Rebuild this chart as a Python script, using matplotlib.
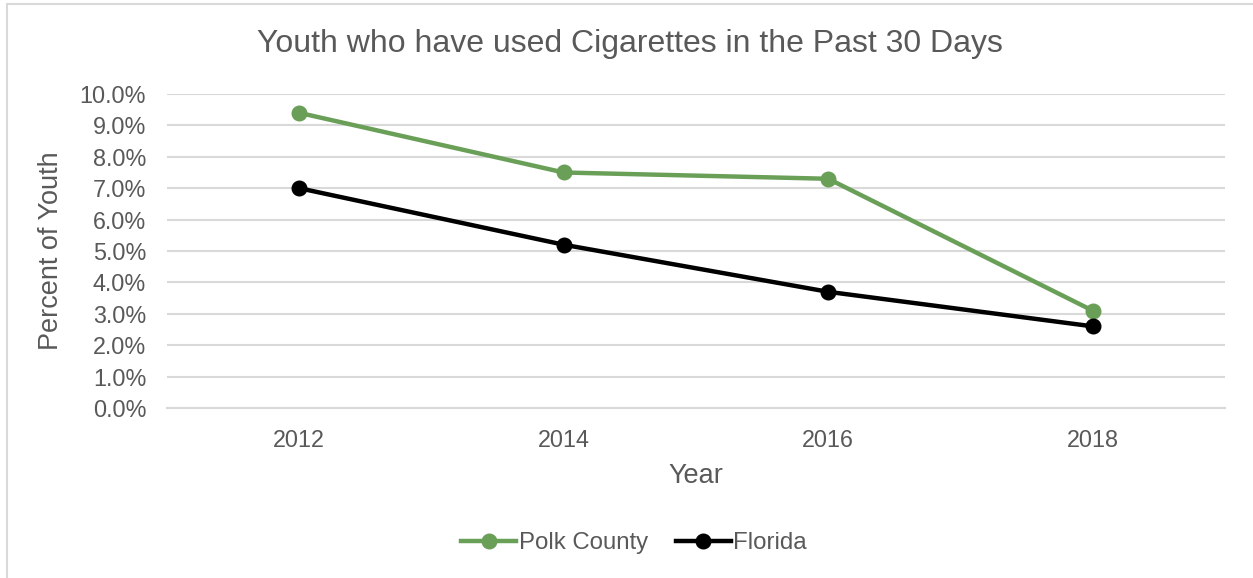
import matplotlib
matplotlib.use("Agg")
import matplotlib.pyplot as plt
from matplotlib.patches import Rectangle
from matplotlib.ticker import FuncFormatter

years = ["2012", "2014", "2016", "2018"]
polk_county = [9.4, 7.5, 7.3, 3.1]
florida = [7.0, 5.2, 3.7, 2.6]
y_ticks = [0, 1, 2, 3, 4, 5, 6, 7, 8, 9, 10]

plt.rcParams['font.family'] = ['Liberation Sans', 'DejaVu Sans']
text_gray = '#595959'
green = '#6a9f58'

W, H = 1253, 578
fig = plt.figure(figsize=(W / 100, H / 100), dpi=100)

# outer chart frame
fig.patches.append(Rectangle((7 / W, -0.1), 1.2, 1 - 4 / H + 0.1,
                             transform=fig.transFigure, fill=False,
                             edgecolor='#d9d9d9', linewidth=1.5))

ax = fig.add_axes([167 / W, 1 - 408 / H, (1225 - 167) / W, (408 - 94) / H])
x = range(len(years))
ax.plot(x, polk_county, color=green, linewidth=3.2, marker='o', markersize=10.5,
        label='Polk County', zorder=3)
ax.plot(x, florida, color='black', linewidth=3.2, marker='o', markersize=10.5,
        label='Florida', zorder=3)

ax.set_xlim(-0.5, len(years) - 0.5)
ax.set_ylim(0, 10)
ax.set_xticks(list(x))
ax.set_xticklabels(years)
ax.set_yticks(y_ticks)
ax.yaxis.set_major_formatter(FuncFormatter(lambda v, p: f"{v:.1f}%"))
ax.tick_params(axis='both', length=0, labelsize=16.8, colors=text_gray)
ax.tick_params(axis='x', pad=15)
ax.tick_params(axis='y', pad=15)
ax.grid(axis='y', color='#d9d9d9', linewidth=1.5)
ax.set_axisbelow(True)
for s in ax.spines.values():
    s.set_visible(False)
ax.spines['bottom'].set_visible(True)
ax.spines['bottom'].set_color('#d9d9d9')
ax.spines['bottom'].set_linewidth(1.5)

ax.set_xlabel('Year', fontsize=19.5, color=text_gray, labelpad=8)
ax.set_ylabel('Percent of Youth', fontsize=19.5, color=text_gray, labelpad=11)

fig.text(630 / W, 1 - 44 / H, 'Youth who have used Cigarettes in the Past 30 Days',
         ha='center', va='center', fontsize=23, color=text_gray)

leg = fig.legend(loc='center', bbox_to_anchor=(634 / W, 1 - 543 / H), ncol=2,
                 frameon=False, fontsize=17.3, handlelength=2.3,
                 handletextpad=0.1, columnspacing=1.15)
for t in leg.get_texts():
    t.set_color(text_gray)

fig.savefig('out.png', dpi=100)
